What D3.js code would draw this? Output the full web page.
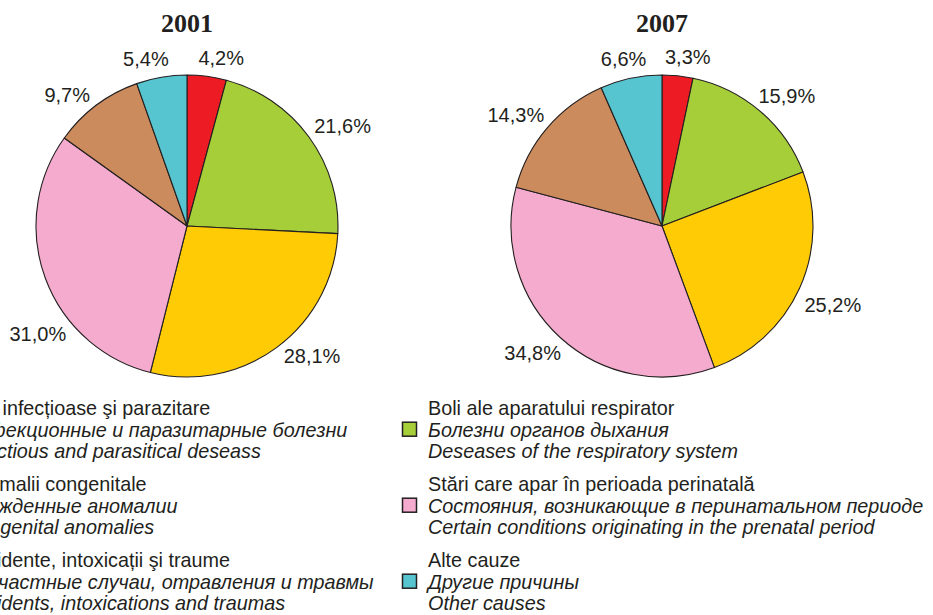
<!DOCTYPE html>
<html>
<head>
<meta charset="utf-8">
<script src="https://cdn.jsdelivr.net/npm/d3@7"></script>
<style>
  body { margin: 0; background: #fff; }
  text { fill: #231f20; }
</style>
</head>
<body>
<svg width="933" height="615"></svg>
<script>
// causes, in pie order (clockwise from 12 o'clock)
const causes = ["infect", "resp", "congen", "perinat", "accid", "other"];
const colors = ["#ed1c24", "#a6ce39", "#ffcb05", "#f5abce", "#cc8b5c", "#56c5d0"];
const values2001 = [4.2, 21.6, 28.1, 31.0, 9.7, 5.4];
const values2007 = [3.3, 15.9, 25.2, 34.8, 14.3, 6.6];
const years = ["2001", "2007"];

// legend texts: ro / ru / en
const legendRo = ["Boli infecțioase şi parazitare", "Anomalii congenitale", "Accidente, intoxicații şi traume",
                  "Boli ale aparatului respirator", "Stări care apar în perioada perinatală", "Alte cauze"];
const legendRu = ["Инфекционные и паразитарные болезни", "Врожденные аномалии", "Несчастные случаи, отравления и травмы",
                  "Болезни органов дыхания", "Состояния, возникающие в перинатальном периоде", "Другие причины"];
const legendEn = ["Infectious and parasitical deseass", "Congenital anomalies", "Accidents, intoxications and traumas",
                  "Deseases of the respiratory system", "Certain conditions originating in the prenatal period", "Other causes"];
const legendCause = ["infect", "congen", "accid", "resp", "perinat", "other"];

// hand nudges of label angles (degrees), as in the original layout
const labelNudge = [[3, 0, -4, -19, -3, -3], [2, 0, 3, 0, 0, 0]];

var svg = d3.select("svg");

const r = 151,
      gap = 13,
      centers = [[187, 226], [662, 226]];

var color = d3.scaleOrdinal().domain(causes).range(colors);

var pie = d3.pie().sort(null).value(d => d.v);
var arc = d3.arc().innerRadius(0).outerRadius(r);
var fmt = v => d3.format(".1f")(v).replace(".", ",") + "%";

[values2001, values2007].forEach((vals, k) => {
  var data = vals.map((v, i) => ({ v: v, c: causes[i] }));
  var g = svg.append("g")
             .attr("transform", `translate(${centers[k][0]},${centers[k][1]})`);

  g.append("text")
   .attr("x", 0)
   .attr("y", 32 - centers[k][1])
   .attr("text-anchor", "middle")
   .style("font-family", "'Liberation Serif', 'Times New Roman', serif")
   .style("font-weight", "bold")
   .style("font-size", "26px")
   .text(years[k]);

  var arcs = pie(data);

  g.selectAll("path")
   .data(arcs)
   .enter().append("path")
   .attr("d", arc)
   .attr("fill", d => color(d.data.c))
   .attr("stroke", "#231f20")
   .attr("stroke-width", 1.1)
   .attr("stroke-linejoin", "round");

  var labels = g.selectAll("text.lab")
                .data(arcs)
                .enter().append("text")
                .attr("class", "lab")
                .attr("text-anchor", "middle")
                .style("font-family", "'Liberation Sans', Arial, sans-serif")
                .style("font-size", "20px")
                .text(d => fmt(d.data.v));

  labels.each(function(d, i) {
    var w = this.getComputedTextLength(),
        h = 14,
        a = (d.startAngle + d.endAngle) / 2 + labelNudge[k][i] * Math.PI / 180,
        s = Math.sin(a), c = Math.cos(a);
    var cx = (r + gap) * s + s * w / 2,
        cy = -(r + gap) * c - c * h / 2;
    d3.select(this).attr("x", cx).attr("y", cy + h / 2);
  });
});

// legend: two columns of three entries
const colX = [-36, 428],
      rowY = 415,
      lineH = 21.7,
      groupH = 76;

legendCause.forEach((c, i) => {
  var col = Math.floor(i / 3), row = i % 3;
  var x = colX[col], y = rowY + row * groupH;
  var g = svg.append("g").attr("class", "legend");

  g.append("rect")
   .attr("x", x - 25.5)
   .attr("y", y + lineH - 14.5)
   .attr("width", 14)
   .attr("height", 14)
   .attr("fill", color(c))
   .attr("stroke", "#231f20")
   .attr("stroke-width", 1.5);

  [legendRo[i], legendRu[i], legendEn[i]].forEach((t, j) => {
    g.append("text")
     .attr("x", x)
     .attr("y", y + j * lineH)
     .style("font-family", "'Liberation Sans', Arial, sans-serif")
     .style("font-size", "19.8px")
     .style("font-style", j > 0 ? "italic" : "normal")
     .text(t);
  });
});
</script>
</body>
</html>
